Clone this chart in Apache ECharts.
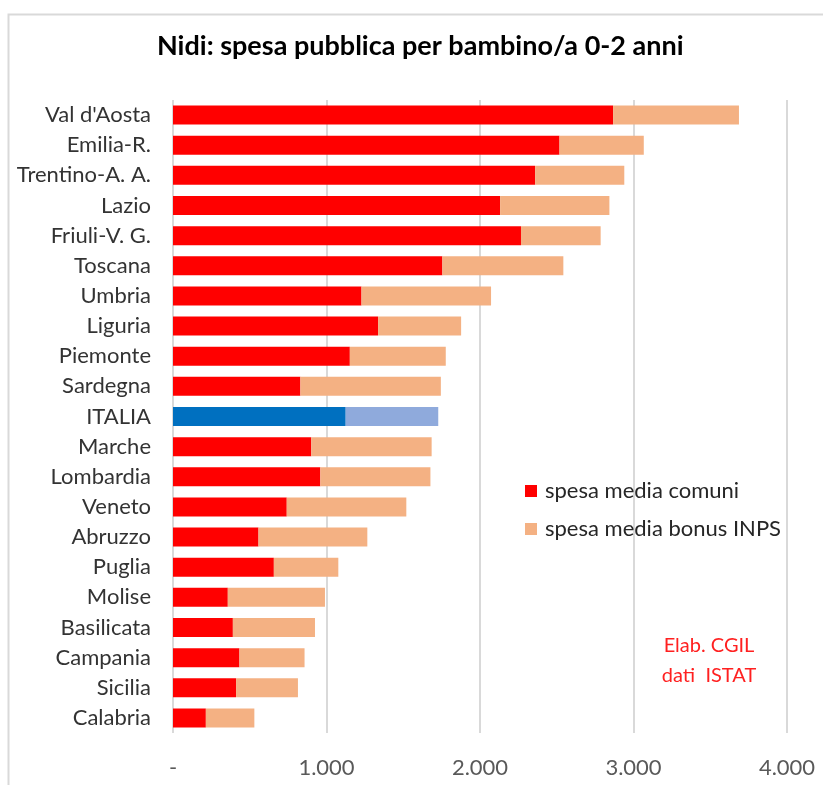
<!DOCTYPE html>
<html>
<head>
<meta charset="utf-8">
<script src="https://cdn.jsdelivr.net/npm/echarts@6/dist/echarts.min.js"></script>
<style>
  html, body { margin: 0; padding: 0; background: #ffffff; }
  #chart { width: 823px; height: 785px; }
</style>
</head>
<body>
<div id="chart"></div>
<script>
// Regions, top to bottom
const regions = [
  "Val d'Aosta", 'Emilia-R.', 'Trentino-A. A.', 'Lazio', 'Friuli-V. G.', 'Toscana',
  'Umbria', 'Liguria', 'Piemonte', 'Sardegna', 'ITALIA', 'Marche', 'Lombardia',
  'Veneto', 'Abruzzo', 'Puglia', 'Molise', 'Basilicata', 'Campania', 'Sicilia', 'Calabria'
];
// Average municipal spending per child (euro)
const spesaComuni = [
  2867, 2518, 2359, 2131, 2267, 1755, 1228, 1336, 1152, 830, 1125,
  901, 960, 741, 557, 657, 357, 390, 433, 411, 214
];
// Average INPS nursery bonus per child (euro)
const bonusInps = [
  820, 549, 581, 712, 519, 788, 844, 541, 625, 915, 603,
  784, 717, 779, 709, 420, 633, 535, 424, 403, 316
];
const xTicks = [0, 1000, 2000, 3000, 4000];

const FONT = 'Lato';
const RED = '#ff0000', ORANGE = '#f4b183';
const ITALY_DARK = '#0070c0', ITALY_LIGHT = '#8faadc';

// The national average row gets its own blue shades
function colored(values, italy) {
  return values.map((v, i) => regions[i] === 'ITALIA'
    ? { value: v, itemStyle: { color: italy } }
    : v);
}

function fmtThousands(v) {
  if (v === 0) return '-';
  return String(v).replace(/\B(?=(\d{3})+(?!\d))/g, '.');
}

const chart = echarts.init(document.getElementById('chart'), null, { renderer: 'canvas' });
chart.setOption({
  backgroundColor: '#ffffff',
  animation: false,
  title: {
    text: 'Nidi: spesa pubblica per bambino/a 0-2 anni',
    left: 152, top: 28,
    textStyle: { fontFamily: FONT, fontSize: 27, fontWeight: 'bold', color: '#000000' }
  },
  legend: {
    orient: 'vertical',
    left: 525, top: 480, padding: 0,
    itemWidth: 12, itemHeight: 12, itemGap: 16,
    icon: 'rect',
    textStyle: { fontFamily: FONT, fontSize: 22, color: '#262626', padding: [0, 0, 0, 3] },
    data: ['spesa media comuni', 'spesa media bonus INPS']
  },
  grid: { left: 173, right: 36, top: 100, bottom: 52, containLabel: false },
  xAxis: {
    type: 'value',
    min: xTicks[0], max: xTicks[xTicks.length - 1], interval: 1000,
    axisLine: { show: false },
    axisTick: { show: false },
    splitLine: { show: true, lineStyle: { color: '#d9d9d9', width: 2 } },
    axisLabel: {
      margin: 24,
      fontFamily: FONT, fontSize: 22, color: '#595959',
      formatter: fmtThousands
    }
  },
  yAxis: {
    type: 'category',
    inverse: true,
    data: regions,
    axisLine: { show: false },
    axisTick: { show: false },
    axisLabel: { margin: 22, fontFamily: FONT, fontSize: 22, color: '#333333' }
  },
  series: [
    {
      name: 'spesa media comuni',
      type: 'bar', stack: 'tot', barWidth: 19,
      itemStyle: { color: RED },
      data: colored(spesaComuni, ITALY_DARK)
    },
    {
      name: 'spesa media bonus INPS',
      type: 'bar', stack: 'tot', barWidth: 19,
      itemStyle: { color: ORANGE },
      data: colored(bonusInps, ITALY_LIGHT)
    }
  ],
  graphic: [
    {
      type: 'rect', silent: true,
      shape: { x: 8.5, y: 14.5, width: 830, height: 800 },
      style: { fill: null, stroke: '#d9d9d9', lineWidth: 2 }
    },
    {
      type: 'text', silent: true,
      x: 709, y: 646,
      style: {
        text: 'Elab. CGIL', align: 'center', verticalAlign: 'middle',
        font: '20px ' + FONT, fill: '#ff2020'
      }
    },
    {
      type: 'text', silent: true,
      x: 709, y: 676,
      style: {
        text: 'dati  ISTAT', align: 'center', verticalAlign: 'middle',
        font: '20px ' + FONT, fill: '#ff2020'
      }
    }
  ]
});
</script>
</body>
</html>
